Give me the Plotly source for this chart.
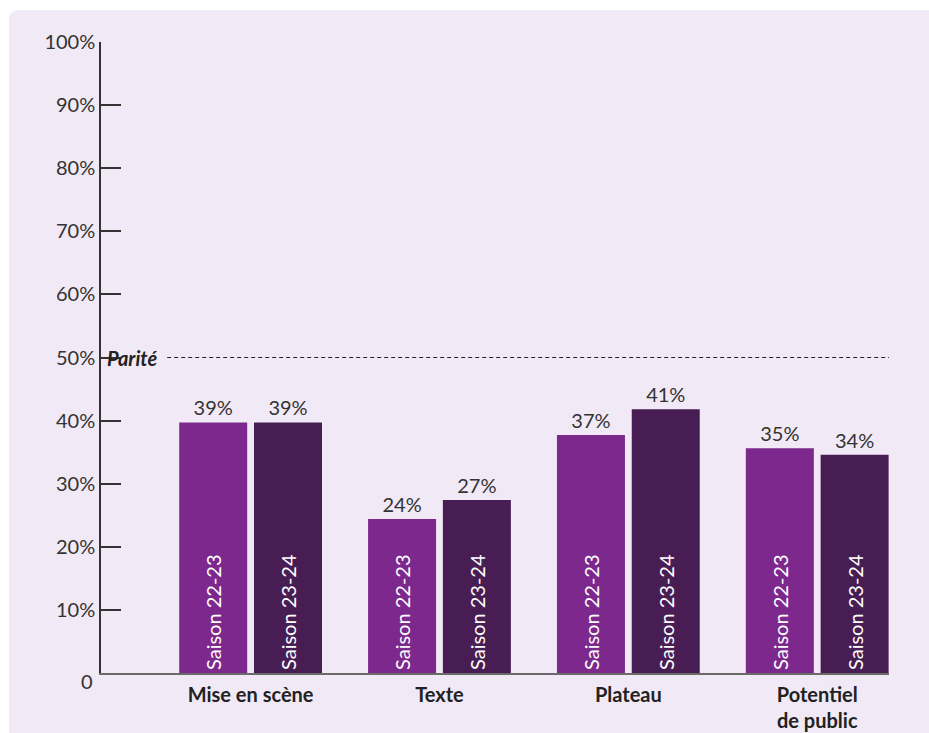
import plotly.graph_objects as go

categories = ["Mise en scène", "Texte", "Plateau", "Potentiel<br>de public"]
series_names = ["Saison 22-23", "Saison 23-24"]
values_2223 = [39.7, 24.4, 37.7, 35.6]
values_2324 = [39.7, 27.4, 41.8, 34.6]
labels_2223 = ["39%", "24%", "37%", "35%"]
labels_2324 = ["39%", "27%", "41%", "34%"]
y_ticks = [0, 10, 20, 30, 40, 50, 60, 70, 80, 90, 100]
y_ticktext = ["", "10%", "20%", "30%", "40%", "50%", "60%", "70%", "80%", "90%", "100%"]
zero_label = "0"
parity_value = 50
parity_label = "Parité"

FONT = "Lato, 'Noto Sans', sans-serif"
TXT = "#333333"
BG = "#f1e9f5"
colors = ["#7d288d", "#481d53"]
xpos = list(range(len(categories)))

FW, FH = 929, 733
ML, MR, MT, MB = 101, 40, 42, 60

fig = go.Figure()
W = 0.36
offsets = [-0.378, 0.018]
for vals, labs, name, col, off in zip([values_2223, values_2324], [labels_2223, labels_2324],
                                      series_names, colors, offsets):
    fig.add_trace(go.Bar(
        x=xpos, y=vals, name=name, width=W, offset=off,
        marker=dict(color=col, line=dict(width=0)),
        text=[name] * len(vals), textposition="inside", insidetextanchor="start",
        textangle=-90, insidetextfont=dict(color="white", size=20, family=FONT),
        hoverinfo="skip", showlegend=False,
    ))
    fig.add_trace(go.Bar(
        x=xpos, y=vals, width=W, offset=off,
        marker=dict(color="rgba(0,0,0,0)", line=dict(width=0)),
        text=labs, textposition="outside", textangle=0, cliponaxis=False,
        outsidetextfont=dict(color=TXT, size=20, family=FONT),
        hoverinfo="skip", showlegend=False,
    ))

# rounded background panel (starts at ~9px / 10px from the top-left of the page)
pw, ph = FW - ML - MR, FH - MT - MB
rx, ry = 10 / pw, 10 / ph
x0, x1, y0, y1 = -(ML - 9) / pw, 1.2, -0.2, (ph + MT - 10) / ph
path = (f"M {x0+rx},{y1} L {x1},{y1} L {x1},{y0} L {x0},{y0} L {x0},{y1-ry} "
        f"Q {x0},{y1} {x0+rx},{y1} Z")
fig.add_shape(type="path", path=path, xref="paper", yref="paper",
              fillcolor=BG, line=dict(width=0), layer="below")

fig.add_shape(type="line", xref="x domain", yref="y", x0=0.084, x1=1.0,
              y0=parity_value, y1=parity_value,
              line=dict(color="#222222", width=1, dash="4px,3px"))
fig.add_annotation(xref="x domain", yref="y", x=0, y=parity_value, text=f"<b><i>{parity_label}</i></b>",
                   showarrow=False, xanchor="left", yanchor="middle", xshift=4,
                   font=dict(size=20, color="#222222", family=FONT))
fig.add_annotation(xref="x domain", yref="y", x=0, y=0, text=zero_label,
                   showarrow=False, xanchor="right", yanchor="middle", xshift=-6, yshift=-8,
                   font=dict(size=20, color=TXT, family=FONT))

fig.update_layout(
    width=FW, height=FH,
    margin=dict(l=ML, r=MR, t=MT, b=MB),
    paper_bgcolor="white", plot_bgcolor="rgba(0,0,0,0)",
    barmode="overlay",
    font=dict(family=FONT, color=TXT),
    showlegend=False,
)
fig.update_xaxes(
    range=[-0.792, 3.38], tickvals=xpos, ticktext=[f"<b>{c}</b>" for c in categories],
    showgrid=False, zeroline=False, showline=True, linecolor="#6a6a6a", linewidth=1.5,
    ticks="", tickfont=dict(size=20, color="#222222", family=FONT), ticklabelstandoff=3,
    automargin=False,
)
fig.update_yaxes(
    range=[0, 100], tickvals=y_ticks, ticktext=y_ticktext,
    showgrid=False, zeroline=False, showline=True, linecolor="#333333", linewidth=1.5,
    ticks="inside", ticklen=20, tickwidth=1.5, tickcolor="#333333",
    tickfont=dict(size=20, color=TXT, family=FONT), automargin=False,
)

fig.write_html("out.html", config={"displayModeBar": False},
               post_script="document.body.style.margin='0';document.body.style.overflow='hidden';")
